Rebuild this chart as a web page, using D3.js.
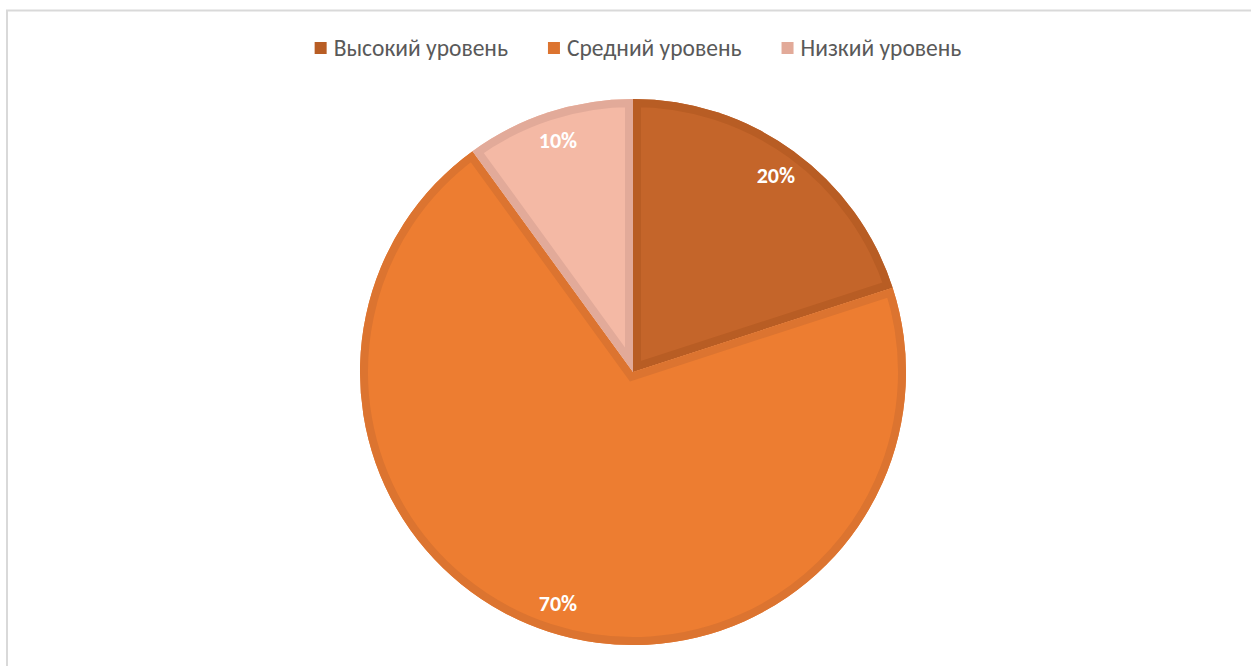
<!DOCTYPE html>
<html>
<head>
<meta charset="utf-8">
<title>Уровни</title>
<style>
body {
  margin: 0;
  background: #fff;
  font-family: Calibri, Carlito, Lato, sans-serif;
}
svg {
  display: block;
}
.legend text {
  fill: #595959;
  font-size: 23.5px;
}
.label {
  fill: #fff;
  font-weight: bold;
  font-size: 22px;
  text-anchor: middle;
  dominant-baseline: central;
}
</style>
<script src="https://d3js.org/d3.v7.min.js"></script>
</head>
<body>
<script>
const categories = ['Высокий уровень', 'Средний уровень', 'Низкий уровень'];
const values = [20, 70, 10];
const labels = ['20%', '70%', '10%'];
const fills = ['#c4652a', '#ed7d31', '#f4b9a5'];
const edges = ['#b85d24', '#dc7430', '#e2aa99'];

const width = 1251,
  height = 666,
  cx = 633,
  cy = 372,
  radius = 273;

let svg = d3.select('body').append('svg')
  .attr('width', width)
  .attr('height', height);

// chart frame
svg.append('path')
  .attr('d', 'M7,' + height + 'V10.5H' + width)
  .attr('fill', 'none')
  .attr('stroke', '#d9d9d9')
  .attr('stroke-width', 2);

let pie = d3.pie().sort(null).value(d => d);
let arcs = pie(values);

let arc = d3.arc().innerRadius(0).outerRadius(radius);
let labelArc = d3.arc().innerRadius(243).outerRadius(243);

let g = svg.append('g')
  .attr('transform', 'translate(' + cx + ',' + cy + ')');

let defs = svg.append('defs');
arcs.forEach((d, i) => {
  defs.append('clipPath').attr('id', 'clip' + i)
    .append('path').attr('d', arc(d));
});

let slices = g.selectAll('g.slice')
  .data(arcs)
  .enter().append('g')
  .attr('class', 'slice');

slices.append('path')
  .attr('d', arc)
  .attr('fill', (d, i) => fills[i]);

// inner outline, clipped so it stays inside each slice
slices.append('path')
  .attr('d', arc)
  .attr('fill', 'none')
  .attr('stroke', (d, i) => edges[i])
  .attr('stroke-width', 16)
  .attr('stroke-linejoin', 'miter')
  .attr('clip-path', (d, i) => 'url(#clip' + i + ')');

g.selectAll('text.label')
  .data(arcs)
  .enter().append('text')
  .attr('class', 'label')
  .attr('transform', d => 'translate(' + labelArc.centroid(d) + ')')
  .text((d, i) => labels[i]);

// legend
let legend = svg.append('g').attr('class', 'legend');
let items = legend.selectAll('g')
  .data(categories)
  .enter().append('g');

items.append('rect')
  .attr('width', 12)
  .attr('height', 12)
  .attr('y', -6)
  .attr('fill', (d, i) => edges[i]);

items.append('text')
  .attr('x', 19)
  .attr('dy', '0.35em')
  .text(d => d);

let x = 0;
items.each(function() {
  let w = 19 + d3.select(this).select('text').node().getComputedTextLength();
  d3.select(this).attr('transform', 'translate(' + x + ',0)');
  x += w + 40;
});
let total = x - 40;
legend.attr('transform', 'translate(' + (638 - total / 2) + ',48)');
</script>
</body>
</html>
